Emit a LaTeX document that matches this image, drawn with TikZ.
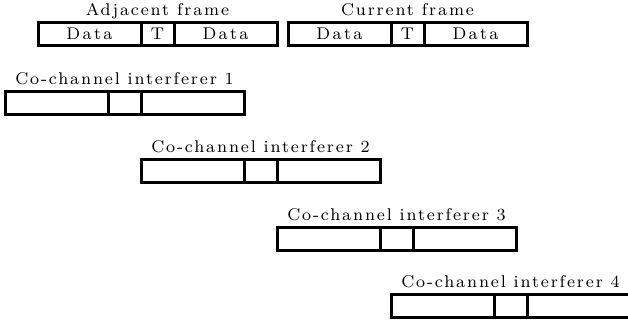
\documentclass[tikz,border=0pt]{standalone}
\usepackage{fontspec}
\newfontfamily\lblfont{Latin Modern Roman}[LetterSpace=11]
\newfontfamily\cellfont{Latin Modern Roman}[LetterSpace=14]
\usetikzlibrary{positioning}

\begin{document}
\begin{tikzpicture}[x=0.5pt, y=-0.5pt, node distance=0pt,
  cell/.style={draw, line width=1.5pt, inner sep=0pt, outer sep=0pt, minimum height=11.5pt,
    font=\cellfont\fontsize{8.5}{10}\selectfont},
  data/.style={cell, minimum width=51.5pt},
  tcell/.style={cell, minimum width=16.5pt},
  lbl/.style={inner sep=1pt, text depth=2pt, font=\lblfont\fontsize{8.5}{10}\selectfont}]
  \useasboundingbox (0,0) rectangle (628,323);
  % adjacent and current frames
  \node[data, anchor=north west] (a1) at (38,22) {Data};
  \node[tcell] (at) [right=of a1] {T};
  \node[data] (a2) [right=of at] {Data};
  \node[lbl] (alab) [above=of at] {Adjacent frame};
  \node[data, anchor=north west] (c1) at (288,22) {Data};
  \node[tcell] (ct) [right=of c1] {T};
  \node[data] (c2) [right=of ct] {Data};
  \node[lbl] (clab) [above=of ct] {Current frame};
  % co-channel interferers
  \node[data, anchor=north west] (i11) at (5,91) {};
  \node[tcell] (i1t) [right=of i11] {};
  \node[data] (i12) [right=of i1t] {};
  \node[lbl] (i1lab) [above=of i1t] {Co-channel interferer 1};
  \node[data, anchor=north west] (i21) at (141,159) {};
  \node[tcell] (i2t) [right=of i21] {};
  \node[data] (i22) [right=of i2t] {};
  \node[lbl] (i2lab) [above=of i2t] {Co-channel interferer 2};
  \node[data, anchor=north west] (i31) at (277,227) {};
  \node[tcell] (i3t) [right=of i31] {};
  \node[data] (i32) [right=of i3t] {};
  \node[lbl] (i3lab) [above=of i3t] {Co-channel interferer 3};
  \node[data, anchor=north west] (i41) at (391,294) {};
  \node[tcell] (i4t) [right=of i41] {};
  \node[data] (i42) [right=of i4t] {};
  \node[lbl] (i4lab) [above=of i4t] {Co-channel interferer 4};
\end{tikzpicture}
\end{document}
